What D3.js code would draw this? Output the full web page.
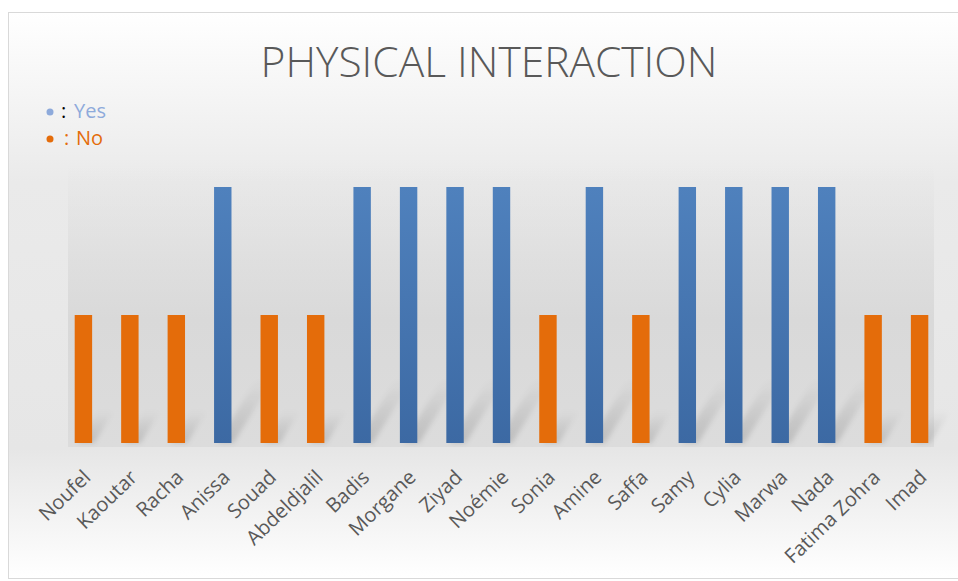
<!DOCTYPE html>
<html>
<head>
<meta charset="utf-8">
<script src="https://cdn.jsdelivr.net/npm/d3@7"></script>
<style>
  html, body { margin: 0; padding: 0; background: white; }
  svg { display: block; }
</style>
</head>
<body>
<div id="chart"></div>
<script>

const names = ["Noufel", "Kaoutar", "Racha", "Anissa", "Souad", "Abdeldjalil", "Badis", "Morgane", "Ziyad",
    "Noémie", "Sonia", "Amine", "Saffa", "Samy", "Cylia", "Marwa", "Nada", "Fatima Zohra", "Imad"]
// 2 = yes, 1 = no
const values = [1, 1, 1, 2, 1, 1, 2, 2, 2, 2, 1, 2, 1, 2, 2, 2, 2, 1, 1]
const legendLabels = ["Yes", "No"]
const legendColors = ["#8eaadb", "#e46c0a"]

const width = 958
const height = 581

const svg = d3.select("#chart").append("svg")
    .attr("width", width)
    .attr("height", height)

const defs = svg.append("defs")

const bgGradient = defs.append("linearGradient")
    .attr("id", "bgGradient")
    .attr("x1", 0).attr("y1", 0).attr("x2", 0).attr("y2", 1)
bgGradient.append("stop").attr("offset", "0%").style("stop-color", "#ffffff")
bgGradient.append("stop").attr("offset", "30%").style("stop-color", "#eaeaea")
bgGradient.append("stop").attr("offset", "77%").style("stop-color", "#e6e6e6")
bgGradient.append("stop").attr("offset", "100%").style("stop-color", "#ffffff")

const plotGradient = defs.append("linearGradient")
    .attr("id", "plotGradient")
    .attr("x1", 0).attr("y1", 0).attr("x2", 0).attr("y2", 1)
plotGradient.append("stop").attr("offset", "0%").style("stop-color", "#d9d9d9").style("stop-opacity", 0)
plotGradient.append("stop").attr("offset", "55%").style("stop-color", "#d9d9d9").style("stop-opacity", 1)
plotGradient.append("stop").attr("offset", "100%").style("stop-color", "#dcdcdc").style("stop-opacity", 1)

const blueGradient = defs.append("linearGradient")
    .attr("id", "blueGradient")
    .attr("x1", 0).attr("y1", 0).attr("x2", 0).attr("y2", 1)
blueGradient.append("stop").attr("offset", "0%").style("stop-color", "#4f81bd")
blueGradient.append("stop").attr("offset", "100%").style("stop-color", "#3c69a3")

const shadowGradient = defs.append("linearGradient")
    .attr("id", "shadowGradient")
    .attr("x1", 0).attr("y1", 1).attr("x2", 0).attr("y2", 0)
shadowGradient.append("stop").attr("offset", "0%").style("stop-color", "#000").style("stop-opacity", 0.14)
shadowGradient.append("stop").attr("offset", "100%").style("stop-color", "#000").style("stop-opacity", 0)

defs.append("filter")
    .attr("id", "blur")
    .attr("x", "-50%").attr("y", "-50%").attr("width", "200%").attr("height", "200%")
    .append("feGaussianBlur")
    .attr("stdDeviation", 2.5)

// chart background + border
svg.append("rect")
    .attr("x", 8.5)
    .attr("y", 12.5)
    .attr("width", 960)
    .attr("height", 566)
    .style("fill", "url(#bgGradient)")
    .style("stroke", "#d9d9d9")
    .style("stroke-width", 1)

const x = d3.scaleBand()
    .domain(names)
    .range([60.3, 942.7])
    .paddingInner(0.625)
    .paddingOuter(0.31)

const y = d3.scaleLinear()
    .domain([0, 2])
    .range([443, 187])

// plot area / floor
svg.append("rect")
    .attr("x", 68)
    .attr("y", 165)
    .attr("width", 866)
    .attr("height", 282)
    .style("fill", "url(#plotGradient)")

// bar shadows
svg.append("g")
    .attr("filter", "url(#blur)")
    .selectAll("polygon")
    .data(values)
    .join("polygon")
    .attr("points", (d, i) => {
        const x0 = x(names[i]) + 3
        const x1 = x(names[i]) + x.bandwidth() + 2
        const h = (y(0) - y(d)) * 0.25
        const dx = h * 0.62
        return [[x0, y(0)], [x1, y(0)], [x1 + dx, y(0) - h], [x0 + dx, y(0) - h]].join(" ")
    })
    .style("fill", "url(#shadowGradient)")

// bars
svg.append("g")
    .selectAll("rect")
    .data(values)
    .join("rect")
    .attr("x", (d, i) => x(names[i]))
    .attr("y", d => y(d))
    .attr("width", x.bandwidth())
    .attr("height", d => y(0) - y(d))
    .style("fill", d => d === 2 ? "url(#blueGradient)" : "#e46c0a")

// category labels
const xAxis = svg.append("g")
    .attr("transform", "translate(0, 452)")
    .call(d3.axisBottom(x).tickSize(0).tickPadding(0))

xAxis.select(".domain").remove()

xAxis.selectAll("text")
    .attr("font-family", "'Open Sans', sans-serif")
    .attr("font-size", 20)
    .attr("fill", "#595959")
    .attr("text-anchor", "end")
    .attr("y", 0)
    .attr("dy", "0.75em")
    .attr("transform", "translate(-2, 16) rotate(-44)")

// title
svg.append("text")
    .attr("x", 489)
    .attr("y", 77)
    .attr("text-anchor", "middle")
    .attr("font-family", "'Open Sans', sans-serif")
    .attr("font-weight", 300)
    .attr("font-size", 42.5)
    .attr("fill", "#595959")
    .text("PHYSICAL INTERACTION")

// legend
const legend = svg.append("g")
    .selectAll("g")
    .data(legendLabels)
    .join("g")
    .attr("transform", (d, i) => "translate(50, " + (118 + i * 27) + ")")

legend.append("circle")
    .attr("cx", 0)
    .attr("cy", -6)
    .attr("r", 3.5)
    .style("fill", (d, i) => legendColors[i])

legend.append("text")
    .attr("x", (d, i) => i === 0 ? 11 : 14)
    .attr("font-family", "'Open Sans', sans-serif")
    .attr("font-size", 20)
    .attr("fill", (d, i) => i === 0 ? "#000" : legendColors[i])
    .text(":")

legend.append("text")
    .attr("x", (d, i) => i === 0 ? 24 : 26)
    .attr("font-family", "'Open Sans', sans-serif")
    .attr("font-size", 20)
    .attr("fill", (d, i) => legendColors[i])
    .text(d => d)

</script>
</body>
</html>
